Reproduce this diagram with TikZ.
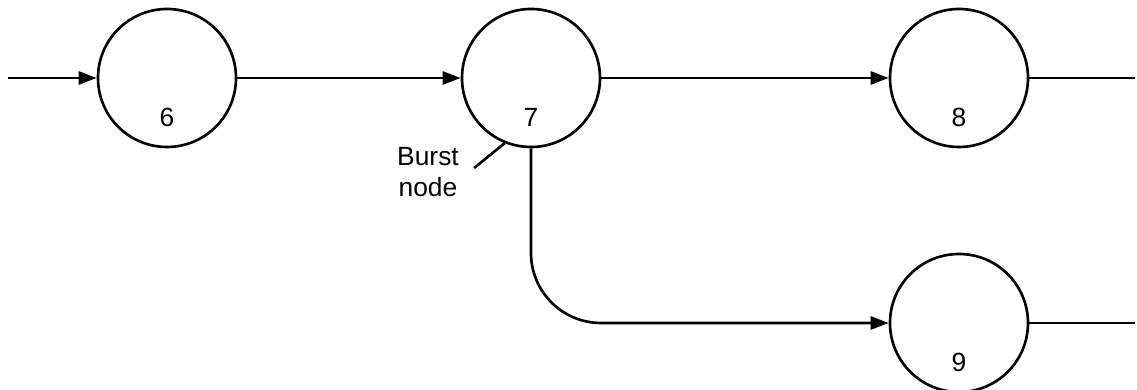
\documentclass[tikz,border=0pt]{standalone}
\usepackage{fontspec}
\setmainfont{Liberation Sans}
\usepackage{xcolor}
\usetikzlibrary{arrows.meta,positioning}

\begin{document}
\begin{tikzpicture}[
    line width=0.75pt,
    every node/.style={font=\fontsize{7.5}{8.9}\selectfont},
    event/.style={circle,draw,minimum size=1.38cm,inner sep=0pt},
    num/.style={inner sep=0pt},
    arrow/.style={-{Triangle[length=1.8mm,width=1.3mm]}},
    line/.style={-}
]
\useasboundingbox (0,0) rectangle (11.37,3.90);
\node[event] (e6) at (1.67,3.12) {};
\node[event] (e7) at (5.31,3.12) {};
\node[event] (e8) at (9.59,3.12) {};
\node[event] (e9) at (9.59,0.67) {};
\node[num] (n6) at ([yshift=-3.9mm]e6.center) {6};
\node[num] (n7) at ([yshift=-3.9mm]e7.center) {7};
\node[num] (n8) at ([yshift=-3.9mm]e8.center) {8};
\node[num] (n9) at ([yshift=-3.9mm]e9.center) {9};
\coordinate (in6) at (0.08,3.12);
\coordinate (out8) at (11.35,3.12);
\coordinate (out9) at (11.35,0.67);
\draw[arrow] (in6) -- (e6);
\draw[arrow] (e6) -- (e7);
\draw[arrow] (e7) -- (e8);
\draw[arrow,rounded corners=0.7cm] (e7.south) |- (e9.west);
\draw[line] (e8) -- (out8);
\draw[line] (e9) -- (out9);
% burst label
\node[align=center,inner sep=0pt] (burst) at (4.28,2.18) {Burst\\node};
\draw[line] ([xshift=1.4mm,yshift=0.4mm]burst.east) -- (e7.248);
\end{tikzpicture}
\end{document}
